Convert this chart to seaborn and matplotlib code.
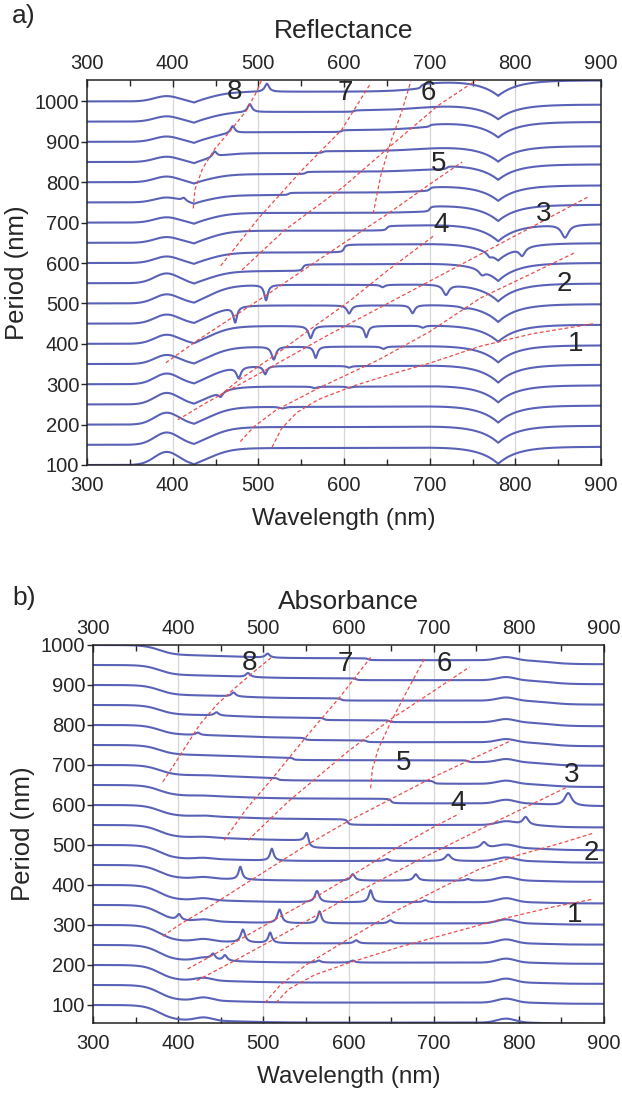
import numpy as np
import pandas as pd
import matplotlib
matplotlib.use("Agg")
import matplotlib.pyplot as plt
from matplotlib.ticker import MultipleLocator, FixedLocator, NullLocator
import seaborn as sns

# ---- data ----
periods = list(range(100, 1001, 50))          # one spectrum per period (nm)
wavelength = np.arange(300, 900.5, 0.5)      # sampling of the wavelength axis
wl_ticks = [300, 400, 500, 600, 700, 800, 900]

# reflectance: background shape per period (offsets in period-axis units)
refl_bump = [32, 30, 29, 28, 26, 22, 22, 22, 22, 24, 16, 14, 13, 12, 14, 13, 13, 13, 13]
refl_plateau = [42, 44, 44, 44, 45, 43, 44, 45, 46, 30, 26, 30, 24, 18, 20, 22, 24, 24, 24]
refl_dip780 = [42, 42, 42, 42, 44, 42, 42, 44, 44, 44, 42, 42, 40, 38, 38, 38, 38, 36, 38]
refl_tail = [3, 3, 3, 3, 3, 3, 3, 3, 3, 3, 3, 4, 6, 8, 10, 12, 14, 14, 16]

# reflectance resonances: (period, wavelength, amplitude, width)
refl_modes = [
    (200, 528, -4, 4),
    (250, 456, -12, 3), (250, 566, -4, 3), (250, 606, -3, 3),
    (300, 477, -27, 3), (300, 508, -20, 2.5), (300, 606, -4, 3),
    (350, 518, -32, 3), (350, 567, -28, 2.5), (350, 646, -6, 3),
    (400, 561, -30, 3), (400, 626, -28, 2.5), (400, 692, -5, 3),
    (450, 473, -38, 2.5), (450, 606, -20, 3), (450, 680, -20, 3), (450, 740, -4, 3),
    (500, 509, -38, 2.5), (500, 645, -6, 3), (500, 719, -25, 4),
    (550, 761, -12, 4), (600, 770, -8, 3),
    (600, 808, -20, 4), (650, 858, -32, 5),
    (750, 413, 8, 3), (850, 449, 14, 3), (900, 470, 18, 3),
    (950, 490, 20, 3), (1000, 510, 20, 3),
]
# reflectance step-like (Fano) edges: (period, wavelength, height)
refl_steps = [
    (550, 552, 17), (600, 600, 20), (650, 650, 12), (700, 700, 14),
    (750, 535, 6), (800, 555, 6), (850, 575, 5), (900, 597, 5), (950, 612, 4),
    (750, 700, 10), (800, 720, 8), (900, 700, 6), (1000, 690, 12),
]

# absorbance: background shape per period
abs_drop = [38, 38, 38, 38, 40, 40, 37, 33, 34, 30, 27, 26, 25, 24, 24, 24, 25, 25, 25]
abs_bump430 = [8, 8, 7, 7, 6, 5, 5, 4, 3, 2, 2, 1, 1, 0, 0, 0, 0, 0, 0]
abs_drift = [6, 6, 6, 6, 6, 6, 6, 6, 6, 8, 8, 8, 8, 8, 8, 8, 8, 8, 8]
abs_bump785 = [10, 10, 10, 10, 10, 10, 10, 9, 9, 9, 9, 9, 8, 8, 8, 8, 8, 8, 8]
abs_tail = [3, 3, 3, 3, 3, 3, 3, 3, 4, 5, 6, 7, 8, 9, 10, 10, 10, 10, 10]

# absorbance resonances: (period, wavelength, amplitude, width)
abs_modes = [
    (250, 441, 14, 3), (250, 455, 14, 3), (250, 565, 5, 3), (250, 605, 5, 3),
    (300, 476, 32, 3), (300, 508, 26, 2.5), (300, 609, 8, 3),
    (350, 401, 15, 3), (350, 519, 34, 3), (350, 566, 30, 2.5), (350, 649, 8, 3),
    (400, 563, 28, 3), (400, 626, 30, 2.5), (400, 690, 5, 3),
    (450, 473, 32, 2.5), (450, 605, 16, 3), (450, 679, 16, 3), (450, 740, 4, 3),
    (500, 510, 30, 2.5), (500, 645, 5, 3), (500, 717, 16, 4),
    (550, 551, 22, 2.5), (550, 759, 15, 4),
    (600, 808, 20, 4), (650, 858, 32, 5),
    (800, 423, 6, 3), (850, 445, 8, 3), (900, 465, 10, 3),
    (950, 482, 10, 3), (1000, 505, 10, 3),
]
abs_steps = [
    (550, 553, -20), (600, 599, -15), (650, 650, -12), (700, 700, -8),
    (700, 517, -6), (750, 535, -6), (800, 549, -6), (850, 571, -6), (900, 591, -6),
    (950, 609, -5), (1000, 623, -5), (800, 621, -5), (850, 648, -5), (750, 740, -5),
]

# red dashed mode lines: (wavelength, period) points
refl_lines = {
    "1": [(516, 144), (527, 190), (545, 230), (570, 262), (610, 295), (660, 328),
          (700, 352), (759, 394), (820, 425), (892, 450)],
    "2": [(479, 158), (495, 195), (520, 235), (570, 290), (640, 360), (700, 430),
          (759, 513), (820, 575), (870, 626)],
    "3": [(406, 212), (440, 255), (500, 325), (580, 420), (660, 510), (740, 600),
          (820, 690), (886, 765)],
    "4": [(455, 272), (477, 310), (518, 370), (560, 435), (606, 505), (650, 580),
          (704, 666)],
    "5": [(392, 353), (430, 410), (473, 470), (509, 520), (551, 580), (600, 650),
          (650, 720), (700, 795), (738, 850)],
    "6a": [(481, 583), (530, 680), (600, 790), (660, 900), (710, 990), (759, 1059)],
    "6b": [(634, 722), (643, 817), (655, 903), (667, 972), (678, 1050)],
    "7": [(456, 593), (500, 710), (551, 830), (597, 929), (630, 1041)],
    "8": [(424, 735), (426, 782), (435, 834), (449, 882), (468, 929), (486, 977),
          (498, 1024), (505, 1059)],
}
refl_labels = [("1", 870, 399), ("2", 857, 548), ("3", 833, 722), ("4", 713, 695),
               ("5", 711, 845), ("6", 699, 1022), ("7", 602, 1022), ("8", 472, 1024)]

abs_lines = {
    "1": [(515, 106), (530, 140), (560, 175), (600, 205), (660, 245), (720, 280),
          (780, 315), (840, 345), (888, 365)],
    "2": [(502, 106), (520, 150), (550, 200), (600, 265), (660, 340), (720, 405),
          (754, 440), (800, 475), (850, 505), (888, 530)],
    "3": [(422, 161), (470, 215), (530, 285), (600, 370), (680, 460), (760, 545),
          (858, 646)],
    "4": [(411, 190), (441, 225), (476, 268), (519, 320), (563, 372), (605, 425),
          (650, 485), (700, 545), (730, 578)],
    "5": [(382, 272), (401, 300), (440, 350), (473, 395), (510, 445), (551, 500),
          (600, 560), (650, 615), (700, 670), (750, 720), (792, 762)],
    "6a": [(482, 512), (530, 610), (600, 735), (650, 815), (700, 885), (742, 945)],
    "6b": [(626, 642), (628, 690), (635, 740), (648, 800), (665, 870), (689, 965)],
    "7": [(454, 512), (480, 590), (510, 665), (554, 780), (590, 870), (626, 969)],
    "8": [(382, 658), (395, 700), (410, 750), (425, 800), (445, 850), (468, 895),
          (490, 935), (509, 968)],
}
abs_labels = [("1", 866, 325), ("2", 885, 479), ("3", 862, 675), ("4", 729, 604),
              ("5", 665, 704), ("6", 712, 953), ("7", 596, 953), ("8", 484, 955)]


def logistic(x, c, s):
    return 1.0 / (1.0 + np.exp(-(x - c) / s))


def resonance(x, c, w):
    return 1.0 / (1.0 + ((x - c) / w) ** 2)


def edge(x, c, w=1.5):
    return 0.5 + np.arctan((x - c) / w) / np.pi


def build_reflectance():
    rows = []
    for i, p in enumerate(periods):
        y = (refl_bump[i] * np.exp(-((wavelength - 393) / 20) ** 2)
             - 8 * np.exp(-np.abs(wavelength - 425) / 10)
             + refl_plateau[i] * logistic(wavelength, 445, 13)
             - refl_dip780[i] * np.exp(-np.abs(wavelength - 780) / 22)
             + refl_tail[i] * logistic(wavelength, 690, 20))
        for mp, c, a, w in refl_modes:
            if mp == p:
                y = y + a * resonance(wavelength, c, w)
        for mp, c, h in refl_steps:
            if mp == p:
                y = y + h * edge(wavelength, c)
        rows.append(pd.DataFrame({"wavelength": wavelength, "value": p + y, "period": p}))
    return pd.concat(rows, ignore_index=True)


def build_absorbance():
    rows = []
    for i, p in enumerate(periods):
        y = (-abs_drop[i] * logistic(wavelength, 378, 9)
             - abs_drift[i] * logistic(wavelength, 470, 25)
             + abs_bump430[i] * np.exp(-((wavelength - 430) / 14) ** 2)
             + abs_bump785[i] * np.exp(-((wavelength - 785) / 15) ** 2)
             - abs_tail[i] * logistic(wavelength, 835, 12))
        for mp, c, a, w in abs_modes:
            if mp == p:
                y = y + a * resonance(wavelength, c, w)
        for mp, c, h in abs_steps:
            if mp == p:
                y = y + h * edge(wavelength, c)
        rows.append(pd.DataFrame({"wavelength": wavelength, "value": p + y, "period": p}))
    return pd.concat(rows, ignore_index=True)


sns.set_theme(style="ticks")
plt.rcParams["font.family"] = ["Liberation Sans", "DejaVu Sans"]

BLUE = "#5a62b8"
RED = "#ec4c4c"

fig = plt.figure(figsize=(6.22, 10.93), dpi=100)
ax_a = fig.add_axes([87 / 622, 1 - 465 / 1093, (601 - 87) / 622, (465 - 80) / 1093])
ax_b = fig.add_axes([93 / 622, 1 - 1023 / 1093, (604 - 93) / 622, (1023 - 645) / 1093])


def draw_panel(ax, df, lines, labels, ylim, yticks):
    for x in wl_ticks[1:-1]:
        ax.axvline(x, color="#d6d6d6", lw=0.9, zorder=0)
    sns.lineplot(data=df, x="wavelength", y="value", units="period", estimator=None,
                 color=BLUE, lw=1.5, ax=ax, zorder=2)
    for key, pts in lines.items():
        pts = np.array(pts, dtype=float)
        ax.plot(pts[:, 0], pts[:, 1], color=RED, lw=0.9, ls=(0, (3, 2)), zorder=3)
    for txt, x, y in labels:
        ax.text(x, y, txt, fontsize=20, ha="center", va="center", zorder=4)
    ax.set_xlim(300, 900)
    ax.set_ylim(*ylim)
    ax.set_yticks(yticks)
    ax.xaxis.set_major_locator(FixedLocator(wl_ticks))
    ax.xaxis.set_minor_locator(FixedLocator([350, 450, 550, 650, 750, 850]))
    ax.tick_params(axis="x", which="both", direction="in", top=True, labelsize=14.5,
                   length=5, width=1, pad=8)
    ax.tick_params(axis="x", which="minor", length=4)
    ax.tick_params(axis="y", direction="out", labelsize=14.5, length=4, width=1, pad=1.5)
    top = ax.secondary_xaxis("top")
    top.xaxis.set_major_locator(FixedLocator(wl_ticks))
    top.xaxis.set_minor_locator(NullLocator())
    top.tick_params(axis="x", which="both", direction="in", labelsize=14.5,
                    length=0, pad=5)
    top.spines["top"].set_visible(False)
    ax.set_xlabel("Wavelength (nm)", fontsize=17.5, labelpad=9)
    ax.set_ylabel("Period (nm)", fontsize=18.5, labelpad=4)
    for s in ax.spines.values():
        s.set_linewidth(1.1)
        s.set_color("#222222")


draw_panel(ax_a, build_reflectance(), refl_lines, refl_labels, (100, 1053),
           list(range(100, 1001, 100)))
draw_panel(ax_b, build_absorbance(), abs_lines, abs_labels, (55, 1000),
           list(range(100, 1001, 100)))

fig.text(12 / 622, 1 - 16 / 1093, "a)", fontsize=19, ha="left", va="center")
fig.text(344 / 622, 1 - 31 / 1093, "Reflectance", fontsize=19, ha="center", va="center")
fig.text(12 / 622, 1 - 598 / 1093, "b)", fontsize=19, ha="left", va="center")
fig.text(348 / 622, 1 - 602 / 1093, "Absorbance", fontsize=19, ha="center", va="center")

fig.savefig("out.png", dpi=100)
